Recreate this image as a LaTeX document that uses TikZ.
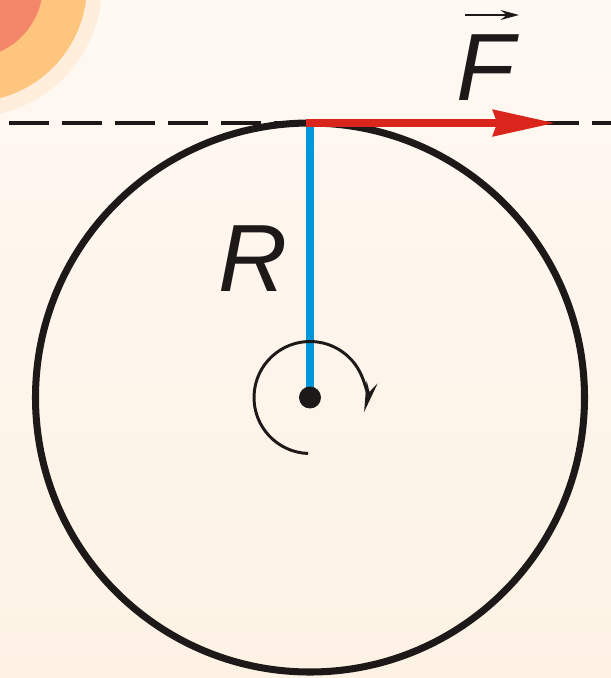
\documentclass[tikz,border=0pt]{standalone}
\usepackage{fontspec}
\setmainfont{Liberation Sans}
\usetikzlibrary{arrows.meta,positioning}
\definecolor{bgtop}{RGB}{254,249,243}
\definecolor{bgbottom}{RGB}{253,242,228}
\definecolor{blobglow}{RGB}{255,238,220}
\definecolor{bloborange}{RGB}{253,197,125}
\definecolor{blobred}{RGB}{244,134,105}
\definecolor{radblue}{RGB}{0,150,219}
\definecolor{forcered}{RGB}{218,37,29}
\definecolor{ink}{RGB}{30,25,25}

\begin{document}
\begin{tikzpicture}[
  x=0.025cm, y=0.025cm,
  rim/.style={draw=ink, line width=5pt},
  tangent/.style={draw=ink, line width=2.8pt, dash pattern=on 28.45pt off 9.25pt},
  radiusline/.style={draw=radblue, line width=5.3pt},
  force/.style={-{Stealth[length=44pt,width=18.5pt,inset=3pt]}, draw=forcered, line width=5pt},
  spin/.style={-{Stealth[length=22pt,width=8pt]}, draw=ink, line width=2.1pt},
  dot/.style={circle, fill=ink, inner sep=0pt, minimum size=15.6pt},
  lbl/.style={font=\fontsize{68}{68}\selectfont\itshape, text=ink, inner sep=0pt},
  vecarr/.style={-{Stealth[length=13pt,width=7pt]}, draw=ink, line width=1.6pt}
]
  % Background
  \shade[top color=bgtop, bottom color=bgbottom] (0,0) rectangle (611,-678);
  \begin{scope}
    \clip (0,0) rectangle (611,-678);
    \fill[blobglow] (-30,15) circle (132);
    \fill[bloborange] (-30,15) circle (117);
    \fill[blobred] (-30,15) circle (73);
  \end{scope}
  \useasboundingbox (0,0) rectangle (611,-678);

  % Points
  \coordinate (O) at (310,-397.5);
  \coordinate (top) at (310,-123);
  \coordinate (tip) at (555,-123);
  \coordinate (dl) at (9,-123);
  \coordinate (dr) at (611,-123);

  % Wheel
  \draw[rim] (O) circle (274.5);
  \draw[tangent] (dl) -- (dr);

  % Radius and force
  \draw[radiusline] (top) -- (O);
  \draw[force] ([xshift=-3pt]top) -- (tip);

  % Axis and rotation
  \node[dot] (c) at (O) {};
  \draw[spin] ([shift={(268:56)}]O) arc[start angle=268, end angle=-15, radius=56];

  % Labels
  \node[lbl] (r) at (253,-259) {R};
  \node[lbl] (f) at (486,-68) {F};
  \draw[vecarr] ([shift={(-21,53)}]f.center) -- ([shift={(33,53)}]f.center);
\end{tikzpicture}
\end{document}
